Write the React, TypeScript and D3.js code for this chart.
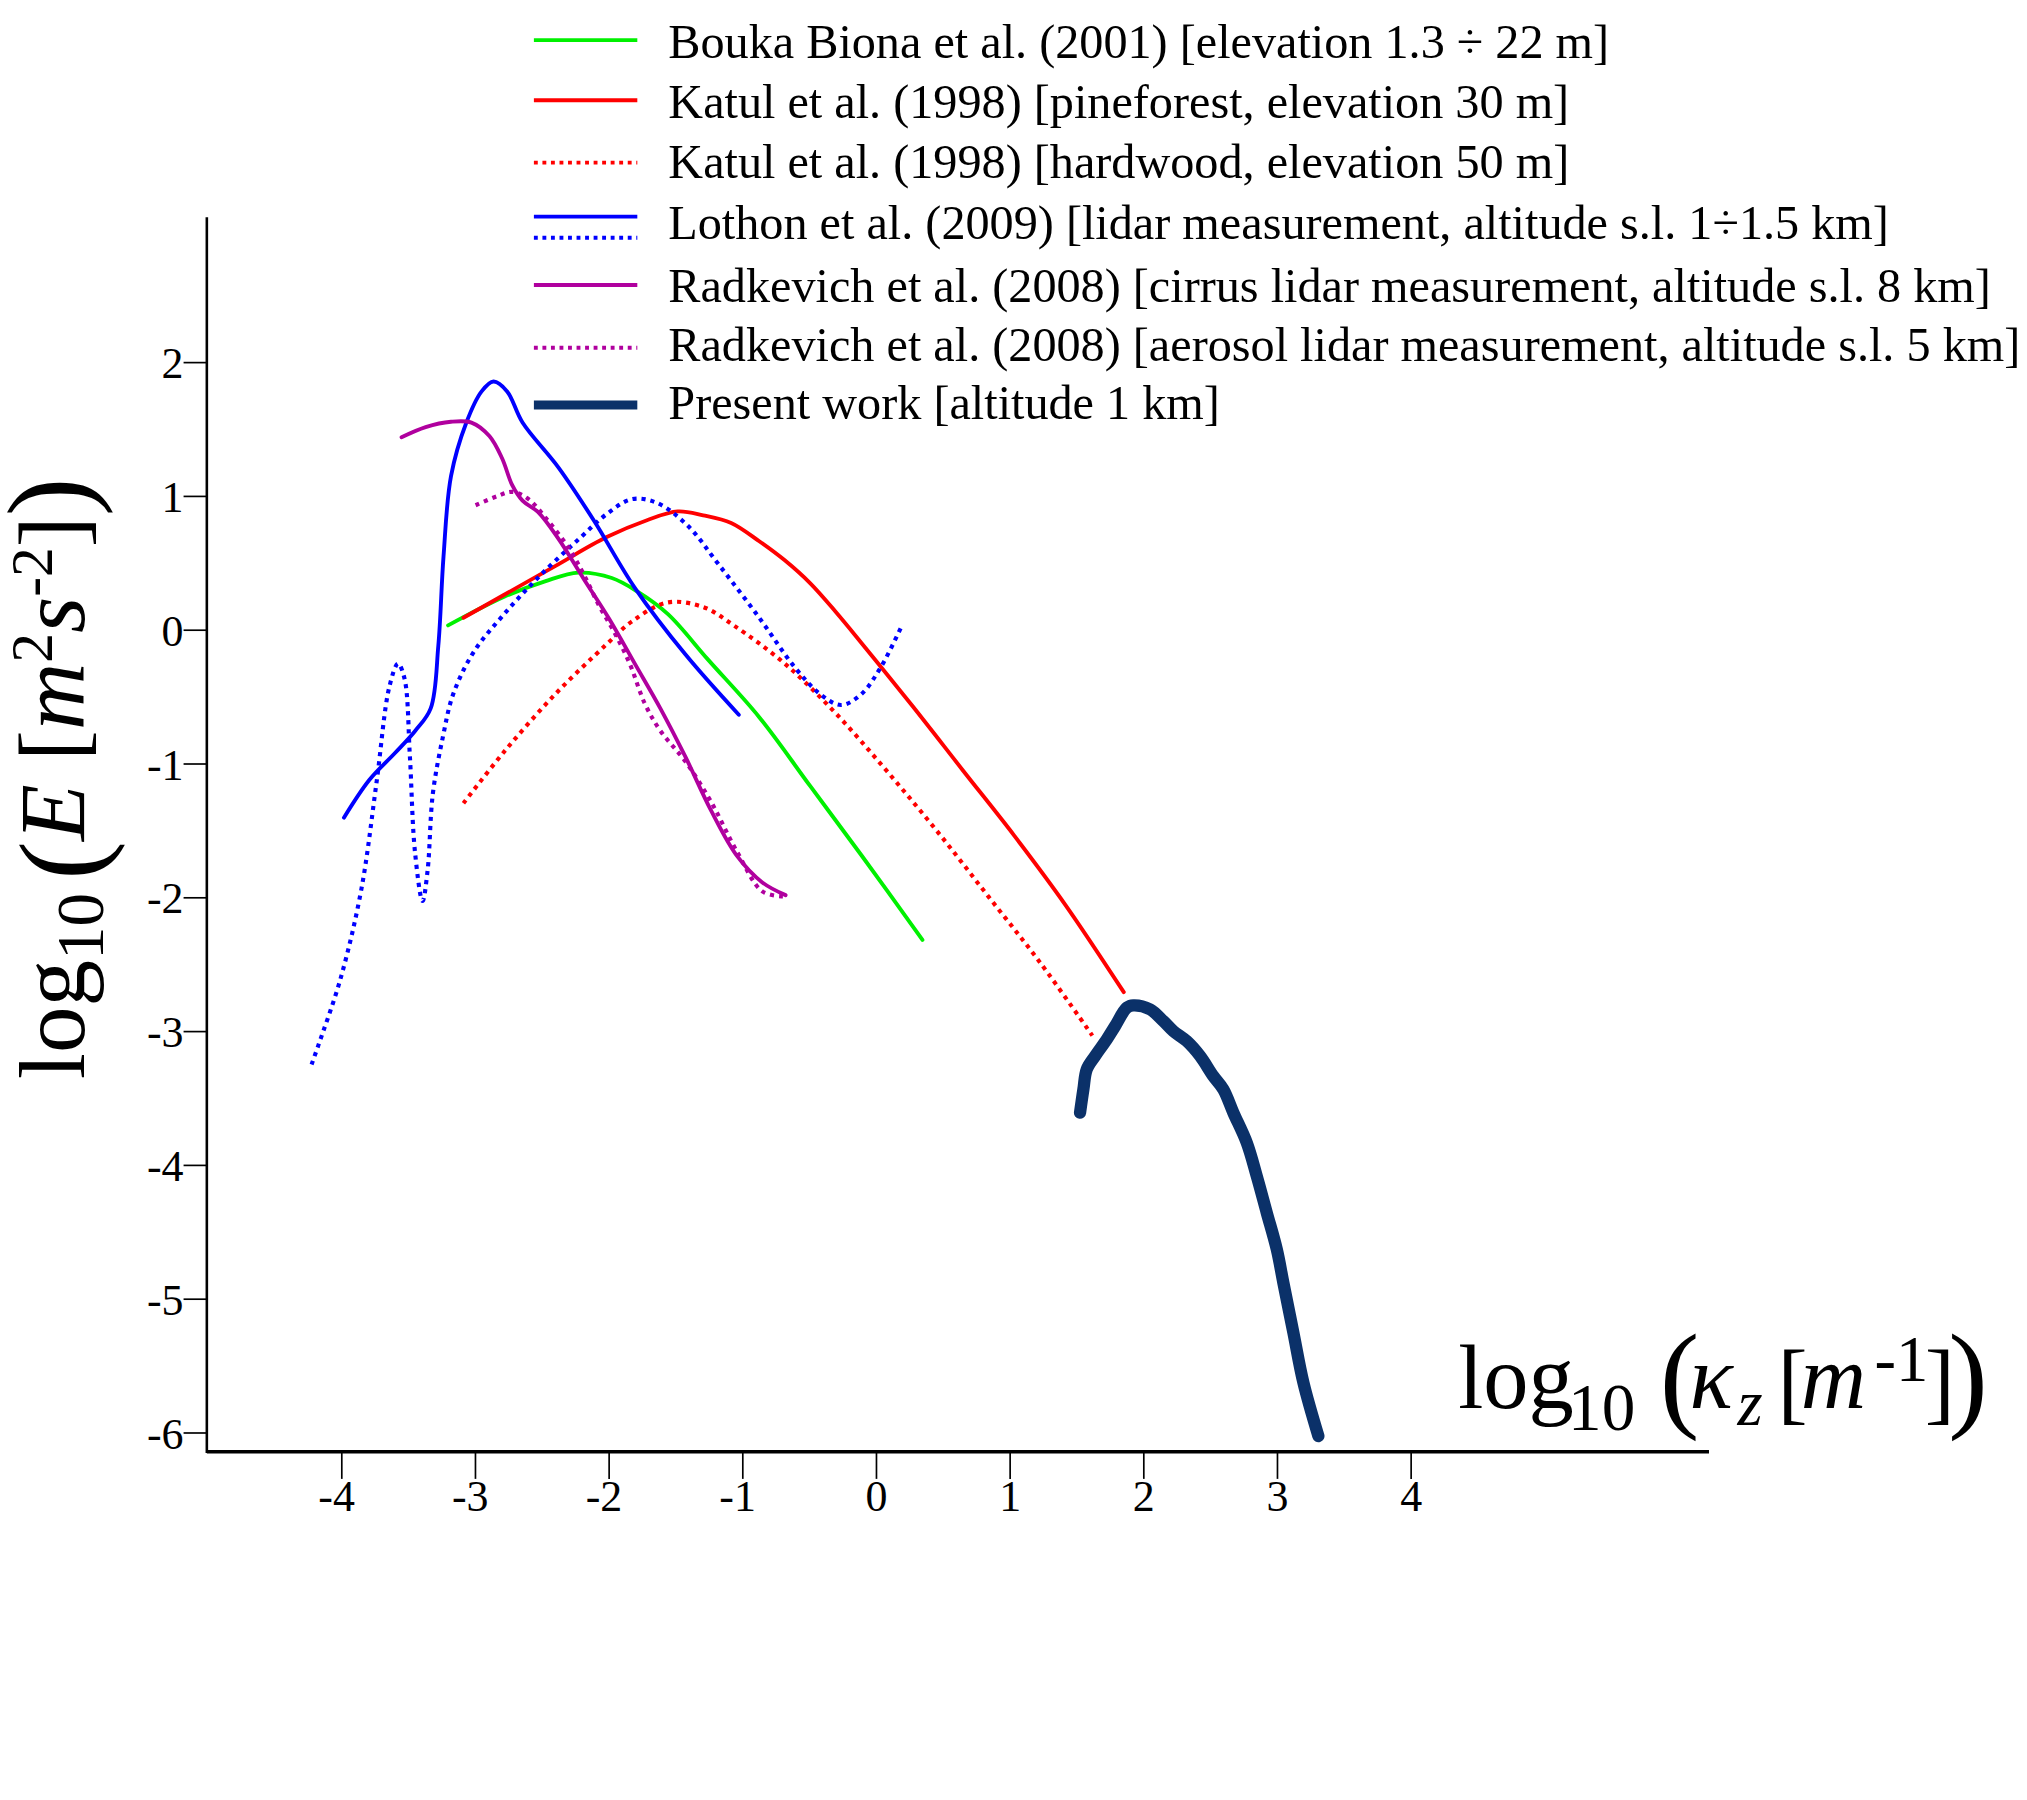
import React from 'react';
import * as d3 from 'd3';

// ---------- data (log10 kz, log10 E) ----------
const xTicks = [-4, -3, -2, -1, 0, 1, 2, 3, 4];
const yTicks = [2, 1, 0, -1, -2, -3, -4, -5, -6];

const boukaBiona: [number, number][] = [
  [-3.205, 0.036], [-2.785, 0.25], [-2.48, 0.365], [-2.23, 0.43], [-1.98, 0.39], [-1.79, 0.29],
  [-1.56, 0.12], [-1.26, -0.22], [-0.877, -0.65], [-0.495, -1.166], [-0.114, -1.68], [0.344, -2.315],
];
const katulPine: [number, number][] = [
  [-3.09, 0.093], [-2.785, 0.265], [-2.404, 0.479], [-2.022, 0.694], [-1.717, 0.822], [-1.487, 0.888],
  [-1.296, 0.859], [-1.087, 0.802], [-0.877, 0.665], [-0.686, 0.522], [-0.495, 0.35], [-0.304, 0.136],
  [-0.114, -0.093], [0.268, -0.565], [0.65, -1.052], [1.032, -1.537], [1.413, -2.052], [1.85, -2.705],
];
const katulHard: [number, number][] = [
  [-3.09, -1.294], [-2.785, -0.908], [-2.404, -0.479], [-2.022, -0.108], [-1.831, 0.064], [-1.564, 0.207],
  [-1.296, 0.173], [-1.068, 0.036], [-0.686, -0.25], [-0.304, -0.622], [0.077, -1.052], [0.459, -1.509],
  [0.841, -1.995], [1.222, -2.481], [1.615, -3.03],
];
const lothonSolid: [number, number][] = [
  [-3.984, -1.401], [-3.793, -1.118], [-3.602, -0.918], [-3.45, -0.751], [-3.335, -0.584], [-3.278, -0.117],
  [-3.239, 0.551], [-3.183, 1.151], [-3.068, 1.552], [-2.954, 1.785], [-2.865, 1.859], [-2.763, 1.785],
  [-2.648, 1.552], [-2.38, 1.217], [-2.113, 0.818], [-1.808, 0.317], [-1.427, -0.184], [-1.03, -0.632],
];
const lothonDotted: [number, number][] = [
  [-4.226, -3.246], [-4.178, -3.11], [-4.007, -2.596], [-3.854, -1.938], [-3.74, -1.137], [-3.644, -0.422],
  [-3.579, -0.25], [-3.53, -0.365], [-3.491, -0.937], [-3.453, -1.652], [-3.396, -2.024], [-3.358, -1.795],
  [-3.319, -1.223], [-3.243, -0.794], [-3.167, -0.479], [-3.014, -0.164], [-2.785, 0.121], [-2.518, 0.407],
  [-2.213, 0.694], [-2.022, 0.865], [-1.831, 0.979], [-1.641, 0.951], [-1.411, 0.78], [-1.182, 0.493],
  [-0.877, 0.093], [-0.61, -0.279], [-0.419, -0.479], [-0.266, -0.559], [-0.114, -0.479], [0.039, -0.265],
  [0.19, 0.035],
];
const radkevichCirrus: [number, number][] = [
  [-3.553, 1.442], [-3.373, 1.518], [-3.183, 1.558], [-3.03, 1.552], [-2.896, 1.451], [-2.801, 1.285],
  [-2.725, 1.084], [-2.648, 0.968], [-2.533, 0.884], [-2.38, 0.684], [-2.19, 0.383], [-1.999, 0.084],
  [-1.808, -0.25], [-1.617, -0.584], [-1.427, -0.951], [-1.236, -1.351], [-1.045, -1.685], [-0.854, -1.885],
  [-0.68, -1.98],
];
const radkevichAerosol: [number, number][] = [
  [-2.999, 0.934], [-2.839, 1.001], [-2.725, 1.034], [-2.609, 0.984], [-2.457, 0.818], [-2.304, 0.617],
  [-2.19, 0.417], [-2.075, 0.183], [-1.961, -0.016], [-1.846, -0.25], [-1.732, -0.551], [-1.617, -0.751],
  [-1.427, -0.984], [-1.236, -1.285], [-1.045, -1.652], [-0.854, -1.952], [-0.70, -1.99],
];
const presentWork: [number, number][] = [
  [1.523, -3.606], [1.548, -3.432], [1.573, -3.282], [1.635, -3.183], [1.723, -3.058], [1.785, -2.959],
  [1.873, -2.821], [1.922, -2.804], [2.047, -2.834], [2.146, -2.921], [2.221, -2.996], [2.321, -3.071],
  [2.421, -3.183], [2.52, -3.333], [2.595, -3.432], [2.67, -3.606], [2.77, -3.83], [2.845, -4.08],
  [2.92, -4.354], [2.995, -4.628], [3.044, -4.877], [3.119, -5.25], [3.194, -5.624], [3.306, -6.023],
];

const legendLabels = [
  'Bouka Biona et al. (2001) [elevation 1.3 ÷ 22 m]',
  'Katul et al. (1998) [pineforest, elevation 30 m]',
  'Katul et al. (1998) [hardwood, elevation 50 m]',
  'Lothon et al. (2009) [lidar measurement, altitude s.l. 1÷1.5 km]',
  'Radkevich et al. (2008) [cirrus lidar measurement, altitude s.l. 8 km]',
  'Radkevich et al. (2008) [aerosol lidar measurement, altitude s.l. 5 km]',
  'Present work [altitude 1 km]',
];

const GREEN = '#00f000';
const RED = '#ff0000';
const BLUE = '#0000ff';
const PURPLE = '#b0009e';
const NAVY = '#0b3169';
const FONT = '"Liberation Serif", "Times New Roman", serif';

export default function App() {
  const x = d3.scaleLinear().domain([-4, 4]).range([264.4, 1091.6]);
  const y = d3.scaleLinear().domain([-6, 2]).range([1108.5, 280.5]);
  const line = d3
    .line<[number, number]>()
    .x((d) => x(d[0]))
    .y((d) => y(d[1]))
    .curve(d3.curveCatmullRom.alpha(0.5));

  const series = [
    { data: boukaBiona, color: GREEN, dash: null, w: 3 },
    { data: katulPine, color: RED, dash: null, w: 3 },
    { data: katulHard, color: RED, dash: '3.2 3.8', w: 3.2 },
    { data: lothonSolid, color: BLUE, dash: null, w: 3 },
    { data: lothonDotted, color: BLUE, dash: '3.2 3.8', w: 3.2 },
    { data: radkevichCirrus, color: PURPLE, dash: null, w: 3 },
    { data: radkevichAerosol, color: PURPLE, dash: '3.2 3.8', w: 3.2 },
    { data: presentWork, color: NAVY, dash: null, w: 9.5 },
  ];

  const legend = [
    { lines: [{ color: GREEN, dash: null, w: 3, dy: 0 }], ly: 31, ty: 45 },
    { lines: [{ color: RED, dash: null, w: 3, dy: 0 }], ly: 77.5, ty: 91.5 },
    { lines: [{ color: RED, dash: '3 3.6', w: 3, dy: 0 }], ly: 125.8, ty: 138 },
    {
      lines: [
        { color: BLUE, dash: null, w: 3, dy: 0 },
        { color: BLUE, dash: '3 3.6', w: 3, dy: 16.3 },
      ],
      ly: 167.6,
      ty: 185,
    },
    { lines: [{ color: PURPLE, dash: null, w: 3, dy: 0 }], ly: 220.5, ty: 233.5 },
    { lines: [{ color: PURPLE, dash: '3 3.6', w: 3, dy: 0 }], ly: 269, ty: 279.5 },
    { lines: [{ color: NAVY, dash: null, w: 7, dy: 0 }], ly: 313.3, ty: 324.5 },
  ];

  const axisX0 = 160;
  const axisY0 = 1123;

  return (
    <svg
      width={2027}
      height={1800}
      viewBox="0 0 1568 1392.4"
      style={{ position: 'absolute', left: 0, top: 0, background: '#fff' }}
      fontFamily={FONT}
    >
      <rect x={0} y={0} width={1568} height={1392.4} fill="#fff" />

      {/* curves */}
      {series.map((s, i) => (
        <path
          key={i}
          d={line(s.data) || ''}
          fill="none"
          stroke={s.color}
          strokeWidth={s.w}
          strokeDasharray={s.dash || undefined}
          strokeLinecap={s.dash ? 'butt' : 'round'}
          strokeLinejoin="round"
        />
      ))}

      {/* axes */}
      <line x1={axisX0} x2={axisX0} y1={168} y2={axisY0 + 1} stroke="#000" strokeWidth={2} />
      <line x1={axisX0} x2={1322} y1={axisY0} y2={axisY0} stroke="#000" strokeWidth={2.6} />
      {yTicks.map((t) => (
        <g key={'y' + t}>
          <line x1={axisX0 - 18} x2={axisX0} y1={y(t)} y2={y(t)} stroke="#000" strokeWidth={1.3} />
          <text x={axisX0 - 18} y={y(t) + 12} fontSize={34} textAnchor="end">
            {t < 0 ? '-' + Math.abs(t) : String(t)}
          </text>
        </g>
      ))}
      {xTicks.map((t) => (
        <g key={'x' + t}>
          <line x1={x(t)} x2={x(t)} y1={axisY0} y2={axisY0 + 21} stroke="#000" strokeWidth={1.3} />
          <text x={x(t) + (t < 0 ? -4 : 0)} y={1169} fontSize={34} textAnchor="middle">
            {t < 0 ? '-' + Math.abs(t) : String(t)}
          </text>
        </g>
      ))}

      {/* y axis title */}
      <text transform="translate(65,602) rotate(-90)" textAnchor="middle" fontSize={72}>
        <tspan>log</tspan>
        <tspan fontSize={52} dy={15}>10</tspan>
        <tspan fontSize={90} dy={-3} dx={10}>(</tspan>
        <tspan fontSize={72} dy={-12} fontStyle="italic">E</tspan>
        <tspan fontSize={72}> [</tspan>
        <tspan fontSize={72} fontStyle="italic">m</tspan>
        <tspan fontSize={46} dy={-25}>2</tspan>
        <tspan fontSize={72} dy={25} fontStyle="italic">s</tspan>
        <tspan fontSize={46} dy={-25}>-2</tspan>
        <tspan fontSize={72} dy={25}>]</tspan>
        <tspan fontSize={90} dy={3}>)</tspan>
      </text>

      {/* x axis title */}
      <text fontSize={70}>
        <tspan x={1128} y={1089}>log</tspan>
        <tspan x={1213} y={1106} fontSize={52}>10</tspan>
        <tspan x={1284} y={1095} fontSize={92}>(</tspan>
        <tspan x={1307} y={1089} fontStyle="italic">κ</tspan>
        <tspan x={1344} y={1102} fontSize={50} fontStyle="italic">z</tspan>
        <tspan x={1375} y={1093}>[</tspan>
        <tspan x={1393} y={1089} fontStyle="italic">m</tspan>
        <tspan x={1450} y={1068} fontSize={50}>-1</tspan>
        <tspan x={1489} y={1093}>]</tspan>
        <tspan x={1507} y={1095} fontSize={92}>)</tspan>
      </text>

      {/* legend */}
      {legend.map((l, i) => (
        <g key={'lg' + i}>
          {l.lines.map((ln, j) => (
            <line
              key={j}
              x1={413}
              x2={493}
              y1={l.ly + ln.dy}
              y2={l.ly + ln.dy}
              stroke={ln.color}
              strokeWidth={ln.w}
              strokeDasharray={ln.dash || undefined}
            />
          ))}
          <text x={517} y={l.ty} fontSize={37.3}>
            {legendLabels[i]}
          </text>
        </g>
      ))}
    </svg>
  );
}
